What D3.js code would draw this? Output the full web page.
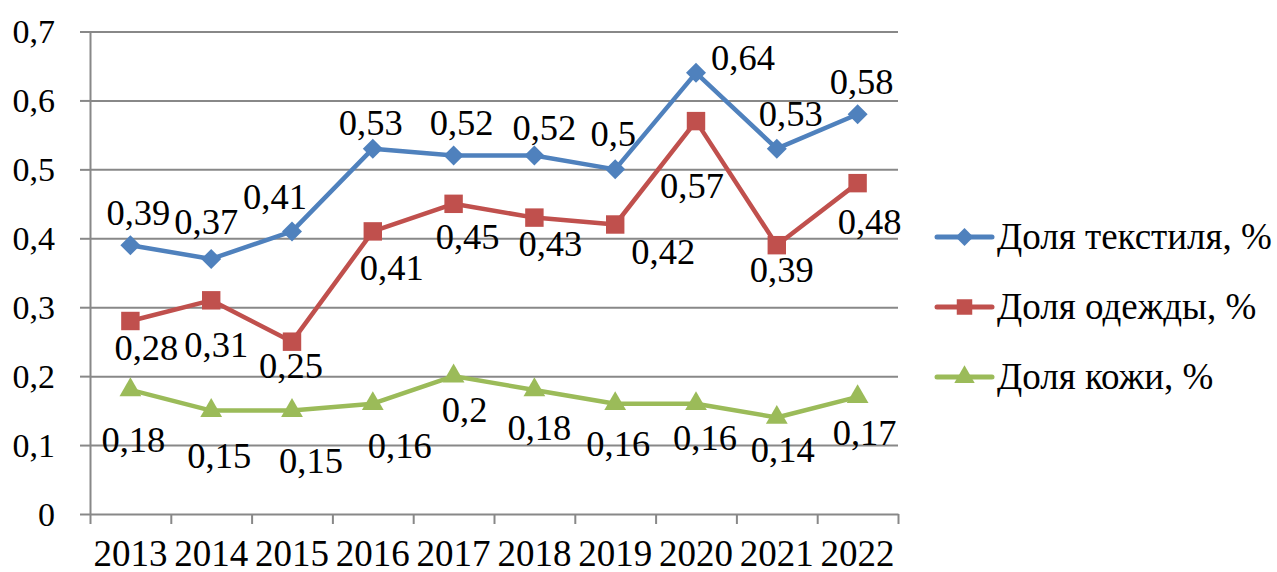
<!DOCTYPE html>
<html lang="ru">
<head>
<meta charset="utf-8">
<script src="https://cdn.jsdelivr.net/npm/d3@7"></script>
<style>
  html, body { margin: 0; padding: 0; background: #ffffff; }
  svg { display: block; }
  svg text { font-family: "Liberation Serif", "Times New Roman", Tinos, serif; fill: #000; }
</style>
</head>
<body>
<svg id="chart" width="1277" height="572"></svg>
<script>
// ---- data ----
const years = ["2013", "2014", "2015", "2016", "2017", "2018", "2019", "2020", "2021", "2022"];
const textileShare = [0.39, 0.37, 0.41, 0.53, 0.52, 0.52, 0.50, 0.64, 0.53, 0.58];
const clothingShare = [0.28, 0.31, 0.25, 0.41, 0.45, 0.43, 0.42, 0.57, 0.39, 0.48];
const leatherShare = [0.18, 0.15, 0.15, 0.16, 0.20, 0.18, 0.16, 0.16, 0.14, 0.17];
const seriesNames = ["Доля текстиля, %", "Доля одежды, %", "Доля кожи, %"];
const yTicks = [0, 0.1, 0.2, 0.3, 0.4, 0.5, 0.6, 0.7];

// ---- layout and style ----
const W = 1277, H = 572;
const plot = { left: 90, right: 898, top: 31.5, bottom: 514 };
const gridColor = "#888888";
// the diamond is a square turned by 45 degrees
const seriesStyle = [
  { color: "#4F81BD", marker: d3.symbolSquare, rotate: 45, size: 200, legendSize: 160 },
  { color: "#C0504D", marker: d3.symbolSquare, rotate: 0, size: 340, legendSize: 240 },
  { color: "#9BBB59", marker: d3.symbolTriangle, rotate: 0, size: 205, legendSize: 180 }
];
// value label placement relative to each point (pixels, label centre)
const labelShift = [
  { dx: [8, -5, -17, -2, 8, 10, -2, 47, 14, 4],  dy: [-32, -37, -34, -26, -33, -28, -35, -15, -35, -32] },
  { dx: [16, 5, -1, 19, 14, 16, 48, -4, 5, 12],  dy: [27, 45, 24, 37, 33, 26, 27, 65, 25, 39] },
  { dx: [3, 8, 19, 27, 11, 5, 3, 9, 6, 7],        dy: [50, 45, 50, 42, 34, 38, 40, 34, 32, 36] }
];
const legendRows = [237, 307, 377];
const fontSize = { yTick: 34, xTick: 37, value: 36.5, legend: 37 };

const fmt = v => String(+v.toFixed(2)).replace(".", ",");

const svg = d3.select("#chart");
svg.append("rect").attr("width", W).attr("height", H).attr("fill", "#ffffff");

const x = d3.scaleBand().domain(years).range([plot.left, plot.right]);
const y = d3.scaleLinear().domain([0, 0.7]).range([plot.bottom, plot.top]);
// category boundaries for the x-axis tick marks
const xEdge = d3.scaleLinear().domain([0, years.length]).range([plot.left, plot.right]);

// horizontal gridlines
const grid = svg.append("g")
  .attr("transform", `translate(${plot.left},0)`)
  .call(d3.axisLeft(y).tickValues(yTicks.slice(1)).tickSize(-(plot.right - plot.left)).tickFormat(""));
grid.select(".domain").remove();
grid.selectAll("line").attr("stroke", gridColor).attr("stroke-width", 2);

// y axis
const yAxis = svg.append("g")
  .attr("transform", `translate(${plot.left},0)`)
  .call(d3.axisLeft(y).tickValues(yTicks).tickSize(10).tickSizeOuter(0).tickPadding(25).tickFormat(fmt));
yAxis.attr("font-family", null).attr("font-size", null);
yAxis.select(".domain").attr("stroke", gridColor).attr("stroke-width", 2);
yAxis.selectAll(".tick line").attr("stroke", gridColor).attr("stroke-width", 2);
yAxis.selectAll("text").attr("font-size", fontSize.yTick).attr("dy", "0.33em");

// x axis: boundary ticks
const xTicksAxis = svg.append("g")
  .attr("transform", `translate(0,${plot.bottom})`)
  .call(d3.axisBottom(xEdge).tickValues(d3.range(years.length + 1)).tickSize(10).tickSizeOuter(0).tickFormat(""));
xTicksAxis.select(".domain").attr("stroke", gridColor).attr("stroke-width", 2);
xTicksAxis.selectAll(".tick line").attr("stroke", gridColor).attr("stroke-width", 2);

// x axis: year labels centred in each category
const xLabels = svg.append("g")
  .attr("transform", `translate(0,${plot.bottom})`)
  .call(d3.axisBottom(x).tickSize(0).tickPadding(26));
xLabels.attr("font-family", null).attr("font-size", null);
xLabels.select(".domain").remove();
xLabels.selectAll("text").attr("font-size", fontSize.xTick);

const allSeries = [textileShare, clothingShare, leatherShare];
const line = d3.line()
  .x((d, i) => x(years[i]) + x.bandwidth() / 2)
  .y(d => y(d));

allSeries.forEach((vals, s) => {
  const st = seriesStyle[s];
  const g = svg.append("g");
  g.append("path")
    .datum(vals)
    .attr("d", line)
    .attr("fill", "none")
    .attr("stroke", st.color)
    .attr("stroke-width", 4.5)
    .attr("stroke-linejoin", "round")
    .attr("stroke-linecap", "round");
  g.selectAll("path.marker")
    .data(vals)
    .join("path")
    .attr("class", "marker")
    .attr("d", d3.symbol().type(st.marker).size(st.size))
    .attr("transform", (d, i) => `translate(${x(years[i]) + x.bandwidth() / 2},${y(d)}) rotate(${st.rotate})`)
    .attr("fill", st.color);
});

// value labels drawn on top of all lines
allSeries.forEach((vals, s) => {
  const sh = labelShift[s];
  svg.append("g").selectAll("text")
    .data(vals)
    .join("text")
    .attr("x", (d, i) => x(years[i]) + x.bandwidth() / 2 + sh.dx[i])
    .attr("y", (d, i) => y(d) + sh.dy[i])
    .attr("dy", "0.33em")
    .attr("text-anchor", "middle")
    .attr("font-size", fontSize.value)
    .text(d => fmt(d));
});

// legend
const legend = svg.append("g");
seriesNames.forEach((name, s) => {
  const st = seriesStyle[s];
  const ly = legendRows[s];
  legend.append("line")
    .attr("x1", 937).attr("x2", 992).attr("y1", ly).attr("y2", ly)
    .attr("stroke", st.color).attr("stroke-width", 5).attr("stroke-linecap", "round");
  legend.append("path")
    .attr("d", d3.symbol().type(st.marker).size(st.legendSize))
    .attr("transform", `translate(964.5,${ly}) rotate(${st.rotate})`)
    .attr("fill", st.color);
  legend.append("text")
    .attr("x", 997).attr("y", ly).attr("dy", "0.33em")
    .attr("font-size", fontSize.legend)
    .text(name);
});
</script>
</body>
</html>
